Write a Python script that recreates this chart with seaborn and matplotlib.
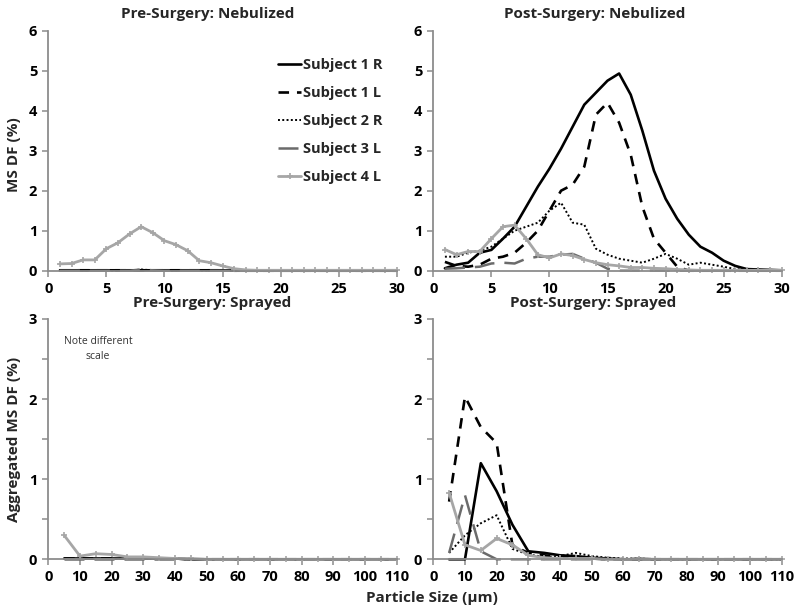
import numpy as np
import pandas as pd
import matplotlib
matplotlib.use("Agg")
import matplotlib.pyplot as plt
import seaborn as sns

sns.set_theme(style="white")
plt.rcParams['font.family'] = ['Open Sans', 'DejaVu Sans']

# ---------------- data ----------------
x_neb = list(range(1, 31))
x_spr = list(range(5, 115, 5))

pre_neb_s1r = [0.01]*15 + [0.0]*15
pre_neb_s1l = [0.01]*15 + [0.0]*15
pre_neb_s2r = [0.0]*7 + [0.03, 0.01] + [0.0]*21
pre_neb_s3l = [0.0]*7 + [0.03, 0.01] + [0.0]*21
pre_neb_s4l = [0.17, 0.18, 0.27, 0.27, 0.55, 0.7, 0.92, 1.1, 0.95, 0.75,
               0.65, 0.5, 0.25, 0.2, 0.12, 0.05, 0.02] + [0.01]*13

post_neb_s1r = [0.06, 0.15, 0.2, 0.45, 0.52, 0.8, 1.1, 1.6, 2.1, 2.55,
                3.05, 3.6, 4.15, 4.45, 4.75, 4.93, 4.4, 3.5, 2.5, 1.8,
                1.3, 0.9, 0.6, 0.45, 0.25, 0.12, 0.04, 0.03, 0.02, 0.01]
post_neb_s1l = [0.22, 0.12, 0.1, 0.15, 0.3, 0.35, 0.45, 0.7, 1.0, 1.5,
                2.0, 2.15, 2.6, 3.9, 4.2, 3.7, 2.9, 1.6, 0.8, 0.45,
                0.1, 0.0, 0.0, 0.0, 0.0, 0.0, 0.0, 0.0, 0.0, 0.0]
post_neb_s2r = [0.35, 0.35, 0.45, 0.5, 0.6, 0.8, 1.0, 1.1, 1.2, 1.5,
                1.7, 1.2, 1.15, 0.55, 0.4, 0.3, 0.25, 0.2, 0.3, 0.42,
                0.3, 0.15, 0.2, 0.15, 0.1, 0.04, 0.02, 0.01, 0.0, 0.0]
post_neb_s3l = [0.05, 0.06, 0.08, 0.1, 0.18, 0.2, 0.18, 0.3, 0.35, 0.35,
                0.4, 0.42, 0.3, 0.2, 0.05, 0.0, 0.0, 0.0, 0.0, 0.0,
                0.0, 0.0, 0.0, 0.0, 0.0, 0.0, 0.0, 0.0, 0.0, 0.0]
post_neb_s4l = [0.53, 0.4, 0.48, 0.48, 0.8, 1.1, 1.14, 0.8, 0.4, 0.32,
                0.42, 0.38, 0.28, 0.2, 0.15, 0.12, 0.08, 0.08, 0.06, 0.05,
                0.03, 0.02, 0.01, 0.01, 0.01, 0.01, 0.01, 0.01, 0.01, 0.01]

pre_spr_s1r = [0.01]*8 + [0.0]*14
pre_spr_s1l = [0.01]*8 + [0.0]*14
pre_spr_s2r = [0.0]*22
pre_spr_s3l = [0.0]*22
pre_spr_s4l = [0.3, 0.04, 0.07, 0.06, 0.03, 0.03, 0.02, 0.01, 0.01] + [0.0]*13

post_spr_s1r = [0.0, 0.0, 1.2, 0.85, 0.43, 0.1, 0.08, 0.05, 0.04, 0.02,
                0.01, 0.0] + [0.0]*10
post_spr_s1l = [0.72, 2.03, 1.65, 1.45, 0.17, 0.08, 0.05, 0.03, 0.02, 0.01,
                0.0, 0.0] + [0.0]*10
post_spr_s2r = [0.08, 0.3, 0.45, 0.55, 0.13, 0.06, 0.03, 0.04, 0.08, 0.04,
                0.02, 0.01, 0.01] + [0.0]*9
post_spr_s3l = [0.08, 0.8, 0.1, 0.0, 0.0, 0.0, 0.0, 0.0, 0.0, 0.0,
                0.0, 0.0, 0.01] + [0.0]*9
post_spr_s4l = [0.83, 0.18, 0.11, 0.26, 0.18, 0.05, 0.02, 0.01, 0.01, 0.01] + [0.0]*12

subjects = ["Subject 1 R", "Subject 1 L", "Subject 2 R", "Subject 3 L", "Subject 4 L"]
titles = ["Pre-Surgery: Nebulized", "Post-Surgery: Nebulized",
          "Pre-Surgery: Sprayed", "Post-Surgery: Sprayed"]

panels = [
    (x_neb, [pre_neb_s1r, pre_neb_s1l, pre_neb_s2r, pre_neb_s3l, pre_neb_s4l]),
    (x_neb, [post_neb_s1r, post_neb_s1l, post_neb_s2r, post_neb_s3l, post_neb_s4l]),
    (x_spr, [pre_spr_s1r, pre_spr_s1l, pre_spr_s2r, pre_spr_s3l, pre_spr_s4l]),
    (x_spr, [post_spr_s1r, post_spr_s1l, post_spr_s2r, post_spr_s3l, post_spr_s4l]),
]

grey4 = "#a6a6a6"
styles = [
    dict(color="black", lw=1.9, linestyle="-"),
    dict(color="black", lw=1.9, linestyle=(0, (4, 3))),
    dict(color="black", lw=1.4, linestyle=(0, (1, 1.2))),
    dict(color="#6b6b6b", lw=1.8, linestyle=(0, (8, 4))),
    dict(color=grey4, lw=2.0, linestyle="-", marker="+", markersize=5,
         markeredgewidth=1.2, markeredgecolor=grey4, markerfacecolor=grey4),
]

W, H = 800, 612
fig = plt.figure(figsize=(8, 6.12), dpi=100)

def frac_rect(l, t, r, b):
    return [l / W, 1 - b / H, (r - l) / W, (b - t) / H]

rects = [frac_rect(48.3, 30.7, 396.7, 270.7),
         frac_rect(433.3, 30.7, 781.7, 270.7),
         frac_rect(48.3, 319.0, 396.7, 559.3),
         frac_rect(433.3, 319.0, 781.7, 559.3)]

spine_c = "#8c8c8c"

axes = []
for i, (rect, (xs, series)) in enumerate(zip(rects, panels)):
    ax = fig.add_axes(rect)
    axes.append(ax)
    for name, ys, st in zip(subjects, series, styles):
        df = pd.DataFrame({"x": xs, "y": ys})
        sns.lineplot(data=df, x="x", y="y", ax=ax, label=name, **st)
    top = i < 2
    ax.set_xlim(0, 30 if top else 110)
    ax.set_ylim(0, 6 if top else 3)
    ax.set_xticks(range(0, 31, 5) if top else range(0, 111, 10))
    ax.set_yticks(range(0, 7) if top else range(0, 4))
    if not top:
        ax.set_yticks([0.5, 1.5, 2.5], minor=True)
    ax.set_xlabel("")
    ax.set_ylabel("")
    for s in ["top", "right"]:
        ax.spines[s].set_visible(False)
    for s in ["left", "bottom"]:
        ax.spines[s].set_color(spine_c)
        ax.spines[s].set_linewidth(1.3)
    ax.tick_params(axis="both", which="both", direction="out", length=4,
                   width=1.1, color=spine_c, labelcolor="black", pad=4)
    ax.tick_params(axis="both", which="major", bottom=True, left=True)
    ax.tick_params(axis="y", which="minor", left=True, length=4)
    for lab in ax.get_xticklabels() + ax.get_yticklabels():
        lab.set_fontsize(10.5)
        lab.set_fontweight("bold")
    ax.patch.set_alpha(0)
    if ax.get_legend() is not None:
        ax.get_legend().remove()
    for ln in ax.get_lines():
        ln.set_clip_on(False)

# legend in first panel
h, l = axes[0].get_legend_handles_labels()
leg = axes[0].legend(h, l, loc="upper left", bbox_to_anchor=(0.659, 0.885),
                     frameon=False, prop=dict(weight="bold", size=10.5),
                     handlelength=1.6, handletextpad=0.15, labelspacing=0.95,
                     borderaxespad=0, borderpad=0)

# titles
title_pos = [(208, 14), (595, 14), (212, 303), (593, 303)]
for t, (px, py) in zip(titles, title_pos):
    fig.text(px / W, 1 - py / H, t, ha="center", va="center",
             fontsize=11, fontweight="bold")

fig.text(14 / W, 1 - 155 / H, "MS DF (%)", rotation=90, ha="center",
         va="center", fontsize=11, fontweight="bold")
fig.text(14 / W, 1 - 439 / H, "Aggregated MS DF (%)", rotation=90,
         ha="center", va="center", fontsize=11, fontweight="bold")
fig.text(432 / W, 1 - 598 / H, "Particle Size (µm)", ha="center",
         va="center", fontsize=11, fontweight="bold")
fig.text(98 / W, 1 - 349 / H, "Note different\nscale", ha="center",
         va="center", fontsize=7.5, color="#333333", linespacing=1.5)

fig.savefig("out.png", dpi=100, facecolor="white")
